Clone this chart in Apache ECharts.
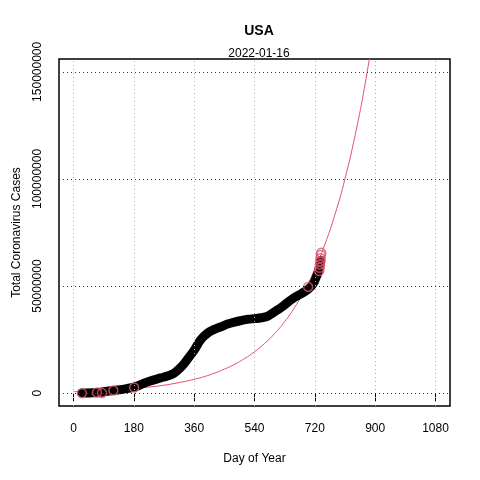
<!DOCTYPE html>
<html>

<head>
    <meta http-equiv="Content-Type" content="text/html; charset=utf-8" />
    <title>USA</title>
    <style type="text/css">
        html,
        body {
            margin: 0;
            padding: 0;
            background: #fff;
        }

        #chart {
            width: 480px;
            height: 480px;
        }
    </style>
    <script src="https://cdn.jsdelivr.net/npm/echarts@6.0.0/dist/echarts.min.js"></script>
</head>

<body>
    <div id="chart"></div>
    <script type="text/javascript">
        // tick values
        var xTicks = [0, 180, 360, 540, 720, 900, 1080];
        var yTicks = [0, 50000000, 100000000, 150000000];

        // cumulative cases (day, cases)
        var caseDays = [25, 40, 60, 80, 100, 120, 150, 180, 200, 220, 240, 260, 280, 300, 320, 340, 360, 380, 400,
            420, 440, 460, 480, 500, 520, 540, 560, 580, 600, 620, 640, 660, 680, 700, 715, 725, 732, 736, 738];
        var caseValues = [0.1e6, 0.1e6, 0.2e6, 0.4e6, 0.9e6, 1.3e6, 1.9e6, 2.8e6, 3.9e6, 5.2e6, 6.2e6, 7.1e6, 8.0e6,
            9.3e6, 12.0e6, 15.8e6, 20.0e6, 25.0e6, 28.0e6, 29.8e6, 31.0e6, 32.3e6, 33.2e6, 33.9e6, 34.5e6, 34.8e6,
            35.2e6, 36.0e6, 38.0e6, 40.0e6, 42.5e6, 44.8e6, 46.5e6, 48.5e6, 51.0e6, 54.5e6, 57.5e6, 60.5e6, 62.0e6];

        // highlighted points (red circles)
        var redDays = [25, 70, 85, 119, 181, 700, 733, 734, 735, 736, 737, 738, 739];
        var redValues = [0, 0.3e6, 0.1e6, 1.2e6, 2.6e6, 49.6e6, 57e6, 58.5e6, 60e6, 61.5e6, 63e6, 64.5e6, 65.5e6];

        // fitted curve
        var fitDays = [0, 30, 60, 90, 120, 150, 180, 210, 240, 270, 300, 330, 360, 390, 420, 450, 480, 510, 540,
            570, 600, 630, 660, 690, 720, 750, 780, 810, 840, 870, 900];
        var fitValues = [0.72e6, 0.87e6, 1.04e6, 1.25e6, 1.5e6, 1.8e6, 2.16e6, 2.6e6, 3.1e6, 3.7e6, 4.5e6, 5.4e6,
            6.45e6, 7.7e6, 9.3e6, 11.2e6, 13.4e6, 16.1e6, 19.3e6, 23.2e6, 27.8e6, 33.4e6, 40.1e6, 48.2e6, 57.9e6,
            69.5e6, 83.4e6, 100.1e6, 120.3e6, 144.4e6, 173.4e6];

        function pairs(xs, ys) {
            var out = [];
            for (var i = 0; i < xs.length; i++) {
                out.push([xs[i], ys[i]]);
            }
            return out;
        }

        // grid lines as mark lines so they run across the whole box
        var gridLines = [];
        xTicks.forEach(function (v) {
            gridLines.push({ xAxis: v, lineStyle: { color: '#aaa', type: [1, 3], width: 1 } });
        });
        yTicks.forEach(function (v) {
            gridLines.push({ yAxis: v, lineStyle: { color: '#333', type: [1, 3], width: 1 } });
        });

        var chart = echarts.init(document.getElementById('chart'));
        var font = 'Liberation Sans, Arial, sans-serif';

        var option = {
            animation: false,
            textStyle: { fontFamily: font },
            title: [
                {
                    text: 'USA',
                    left: 254,
                    top: 19,
                    textAlign: 'center',
                    textStyle: { fontSize: 14, fontWeight: 'bold', color: '#000', fontFamily: font }
                },
                {
                    text: '2022-01-16',
                    left: 254,
                    top: 43,
                    textAlign: 'center',
                    textStyle: { fontSize: 12, fontWeight: 'normal', color: '#000', fontFamily: font }
                }
            ],
            grid: {
                left: 59,
                right: 30,
                top: 59,
                bottom: 74,
                show: true,
                borderColor: '#000',
                borderWidth: 1.5,
                backgroundColor: 'transparent'
            },
            xAxis: {
                type: 'value',
                min: -43.2,
                max: 1123.2,
                name: 'Day of Year',
                nameLocation: 'middle',
                nameGap: 47,
                nameTextStyle: { fontSize: 12, color: '#000' },
                axisLine: { show: false },
                axisTick: { show: true, length: 8, customValues: xTicks, lineStyle: { color: '#000' } },
                axisLabel: {
                    customValues: xTicks,
                    fontSize: 12,
                    color: '#000',
                    margin: 17,
                    formatter: function (v) { return String(v); }
                },
                splitLine: { show: false }
            },
            yAxis: {
                type: 'value',
                min: -6000000,
                max: 156000000,
                name: 'Total Coronavirus Cases',
                nameLocation: 'middle',
                nameGap: 36,
                nameTextStyle: { fontSize: 12, color: '#000' },
                axisLine: { show: false },
                axisTick: { show: false, customValues: yTicks },
                axisLabel: {
                    customValues: yTicks,
                    rotate: 90,
                    fontSize: 12,
                    color: '#000',
                    margin: 15,
                    formatter: function (v) { return String(v); }
                },
                splitLine: { show: false }
            },
            series: [
                {
                    name: 'grid',
                    type: 'line',
                    data: [],
                    silent: true,
                    markLine: {
                        silent: true,
                        symbol: 'none',
                        label: { show: false },
                        animation: false,
                        data: gridLines
                    },
                    z: 1
                },
                {
                    name: 'fit',
                    type: 'line',
                    data: pairs(fitDays, fitValues),
                    smooth: true,
                    showSymbol: false,
                    clip: true,
                    lineStyle: { color: '#DF536B', width: 1 },
                    z: 2
                },
                {
                    name: 'cases',
                    type: 'line',
                    data: pairs(caseDays, caseValues),
                    smooth: 0.4,
                    showSymbol: false,
                    lineStyle: { color: '#000', width: 9, cap: 'round', join: 'round' },
                    z: 3
                },
                {
                    name: 'highlight',
                    type: 'scatter',
                    data: pairs(redDays, redValues),
                    symbol: 'circle',
                    symbolSize: 9,
                    itemStyle: { color: 'transparent', borderColor: '#DF536B', borderWidth: 1.5 },
                    z: 4
                }
            ]
        };
        chart.setOption(option);
    </script>
</body>

</html>
